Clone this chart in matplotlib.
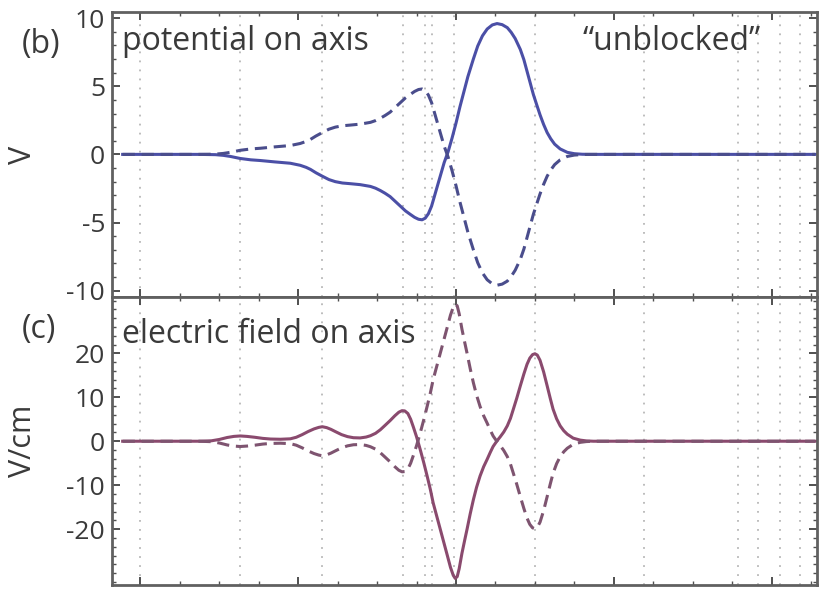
import matplotlib
matplotlib.use("Agg")
import matplotlib.pyplot as plt
from matplotlib.ticker import MultipleLocator

plt.rcParams['font.family'] = ['Open Sans', 'DejaVu Sans']

# positions along the axis (tick units)
x_pot = [-0.45, 1.5, 1.9, 2.1, 2.28, 2.53, 2.8, 3.04, 3.4, 3.8, 4.05, 4.2,
         4.31, 4.45, 4.61, 4.78, 4.94, 5.12, 5.32, 5.57, 5.83, 5.96, 6.08, 6.2,
         6.33, 6.46, 6.59, 6.72, 6.84, 6.95, 7.05, 7.14, 7.22, 7.3, 7.38, 7.45,
         7.53, 7.6, 7.7, 7.8, 7.9, 8.0, 8.1, 8.2, 8.3, 8.44, 8.55, 8.67,
         8.79, 8.92, 9.04, 9.17, 9.3, 9.4, 9.5, 9.63, 9.72, 9.8, 9.88, 9.96,
         10.05, 10.13, 10.22, 10.31, 10.4, 10.5, 10.64, 10.82, 11.0, 11.2, 11.4, 17.1]
pot_solid = [0, 0, -0.02, -0.07, -0.15, -0.3, -0.4, -0.45, -0.55, -0.65, -0.8, -0.95,
             -1.1, -1.35, -1.6, -1.85, -2.0, -2.1, -2.15, -2.22, -2.35, -2.48, -2.65, -2.85,
             -3.1, -3.45, -3.8, -4.15, -4.4, -4.62, -4.76, -4.8, -4.68, -4.35, -3.8, -3.1,
             -2.3, -1.6, -0.6, 0.2, 1.2, 2.3, 3.5, 4.6, 5.7, 7.0, 7.95, 8.7,
             9.2, 9.5, 9.6, 9.52, 9.3, 8.95, 8.5, 7.7, 6.95, 6.1, 5.25, 4.4,
             3.6, 2.9, 2.2, 1.6, 1.15, 0.75, 0.4, 0.15, 0.05, 0.01, 0, 0]
pot_dashed = [0, 0, 0.02, 0.07, 0.15, 0.3, 0.4, 0.45, 0.55, 0.65, 0.8, 0.95,
              1.1, 1.35, 1.6, 1.85, 2.0, 2.1, 2.15, 2.22, 2.35, 2.48, 2.65, 2.85,
              3.1, 3.45, 3.8, 4.15, 4.4, 4.62, 4.76, 4.8, 4.68, 4.35, 3.8, 3.1,
              2.3, 1.6, 0.6, -0.2, -1.2, -2.3, -3.5, -4.6, -5.7, -7.0, -7.95, -8.7,
              -9.2, -9.5, -9.6, -9.52, -9.3, -8.95, -8.5, -7.7, -6.95, -6.1, -5.25, -4.4,
              -3.6, -2.9, -2.2, -1.6, -1.15, -0.75, -0.4, -0.15, -0.05, -0.01, 0, 0]

x_field = [-0.45, 1.5, 1.8, 2.0, 2.2, 2.37, 2.53, 2.7, 2.9, 3.1, 3.3, 3.55,
           3.8, 3.95, 4.1, 4.25, 4.4, 4.52, 4.61, 4.72, 4.83, 4.94, 5.1, 5.25,
           5.4, 5.57, 5.72, 5.83, 5.96, 6.08, 6.2, 6.33, 6.45, 6.55, 6.63, 6.7,
           6.78, 6.85, 6.92, 7.0, 7.09, 7.18, 7.27, 7.35, 7.42, 7.51, 7.6, 7.69,
           7.78, 7.86, 7.93, 7.98, 8.03, 8.08, 8.15, 8.22, 8.28, 8.36, 8.44, 8.52,
           8.61, 8.7, 8.79, 8.87, 8.94, 9.04, 9.12, 9.21, 9.3, 9.38, 9.45, 9.54,
           9.63, 9.72, 9.8, 9.87, 9.94, 10.0, 10.06, 10.13, 10.22, 10.31, 10.39, 10.46,
           10.55, 10.64, 10.73, 10.82, 10.97, 11.15, 11.3, 11.48, 17.1]
field_solid = [0, 0, 0.1, 0.4, 0.85, 1.1, 1.2, 1.1, 0.9, 0.65, 0.5, 0.45,
               0.55, 0.9, 1.5, 2.2, 2.8, 3.15, 3.3, 3.1, 2.7, 2.2, 1.5, 1.05,
               0.8, 0.75, 0.95, 1.25, 1.8, 2.6, 3.6, 4.7, 5.8, 6.6, 6.95, 6.9,
               6.3, 5.0, 3.2, 1.0, -1.8, -4.8, -8.0, -11, -14, -17, -20, -23,
               -26, -28.7, -30.5, -31.2, -30.8, -29, -25.5, -22.5, -20, -16.5, -13.3, -10.5,
               -7.9, -5.8, -4.1, -2.5, -1.2, 0.1, 1.0, 2.1, 3.5, 5.2, 7.2, 9.8,
               12.6, 15.3, 17.5, 18.9, 19.7, 19.9, 19.6, 18.4, 15.8, 12.6, 9.7, 7.3,
               5.1, 3.5, 2.4, 1.6, 0.7, 0.25, 0.08, 0, 0]
field_dashed = [0, 0, -0.1, -0.4, -0.85, -1.1, -1.2, -1.1, -0.9, -0.65, -0.5, -0.45,
                -0.55, -0.9, -1.5, -2.2, -2.8, -3.15, -3.3, -3.1, -2.7, -2.2, -1.5, -1.05,
                -0.8, -0.75, -0.95, -1.25, -1.8, -2.6, -3.6, -4.7, -5.8, -6.6, -6.95, -6.9,
                -6.3, -5.0, -3.2, -1.0, 1.8, 4.8, 8.0, 11, 14, 17, 20, 23,
                26, 28.7, 30.5, 31.2, 30.8, 29, 25.5, 22.5, 20, 16.5, 13.3, 10.5,
                7.9, 5.8, 4.1, 2.5, 1.2, -0.1, -1.0, -2.1, -3.5, -5.2, -7.2, -9.8,
                -12.6, -15.3, -17.5, -18.9, -19.7, -19.9, -19.6, -18.4, -15.8, -12.6, -9.7, -7.3,
                -5.1, -3.5, -2.4, -1.6, -0.7, -0.25, -0.08, 0, 0]

# electrode boundaries
boundaries = [0, 2.53, 4.61, 6.66, 7.22, 7.40, 7.96, 10.0, 12.77, 15.15, 15.66, 16.21, 16.72]

text_c = '#3a3a3a'
fig = plt.figure(figsize=(8.26, 5.90), dpi=100)
ax1 = fig.add_axes([0.1356, 0.4958, 0.8535, 0.4839])
ax2 = fig.add_axes([0.1356, 0.0085, 0.8535, 0.4873])


def style(ax):
    for b in boundaries:
        ax.axvline(b, color='#b8b8b8', lw=1.3, ls=(0, (1, 4)), zorder=0)
    ax.set_xlim(-0.72, 17.15)
    ax.xaxis.set_major_locator(MultipleLocator(4))
    ax.xaxis.set_minor_locator(MultipleLocator(1))
    ax.tick_params(which='both', direction='in', top=True, right=True,
                   color='#505050', labelbottom=False, labelsize=19,
                   labelcolor=text_c, pad=5)
    ax.tick_params(which='major', length=6, width=1.4)
    ax.tick_params(which='minor', length=3, width=1.0)
    for s in ax.spines.values():
        s.set_color('#606060')
        s.set_linewidth(2)


style(ax1)
ax1.plot(x_pot, pot_solid, color='#4b4fa6', lw=2.2)
ax1.plot(x_pot, pot_dashed, color='#4a4d8c', lw=2.2, ls=(0, (4, 2.2)))
ax1.set_ylim(-10.5, 10.45)
ax1.set_yticks([-10, -5, 0, 5, 10])
ax1.set_yticklabels(['-10', '-5', '0', '5', '10'])
ax1.yaxis.set_minor_locator(MultipleLocator(1))
ax1.set_ylabel('V', fontsize=22, color=text_c, va='center')
ax1.yaxis.set_label_coords(-0.126, 0.5)
ax1.text(0.0135, 0.868, 'potential on axis', transform=ax1.transAxes,
         fontsize=23, color=text_c, va='baseline', ha='left')
ax1.text(0.667, 0.868, '\u201cunblocked\u201d', transform=ax1.transAxes,
         fontsize=23, color=text_c, va='baseline', ha='left')
fig.text(0.0266, 0.910, '(b)', fontsize=23, color=text_c, va='baseline')

style(ax2)
ax2.plot(x_field, field_solid, color='#8a4a6e', lw=2.2)
ax2.plot(x_field, field_dashed, color='#7e5470', lw=2.2, ls=(0, (4, 2.2)))
ax2.set_ylim(-32.7, 32.7)
ax2.set_yticks([-20, -10, 0, 10, 20])
ax2.set_yticklabels(['-20', '-10', '0', '10', '20'])
ax2.yaxis.set_minor_locator(MultipleLocator(2))
ax2.set_ylabel('V/cm', fontsize=22, color=text_c, va='center')
ax2.yaxis.set_label_coords(-0.126, 0.5)
ax2.text(0.0135, 0.843, 'electric field on axis', transform=ax2.transAxes,
         fontsize=23, color=text_c, va='baseline', ha='left')
fig.text(0.0266, 0.427, '(c)', fontsize=23, color=text_c, va='baseline')

fig.savefig('out.png', dpi=100)
